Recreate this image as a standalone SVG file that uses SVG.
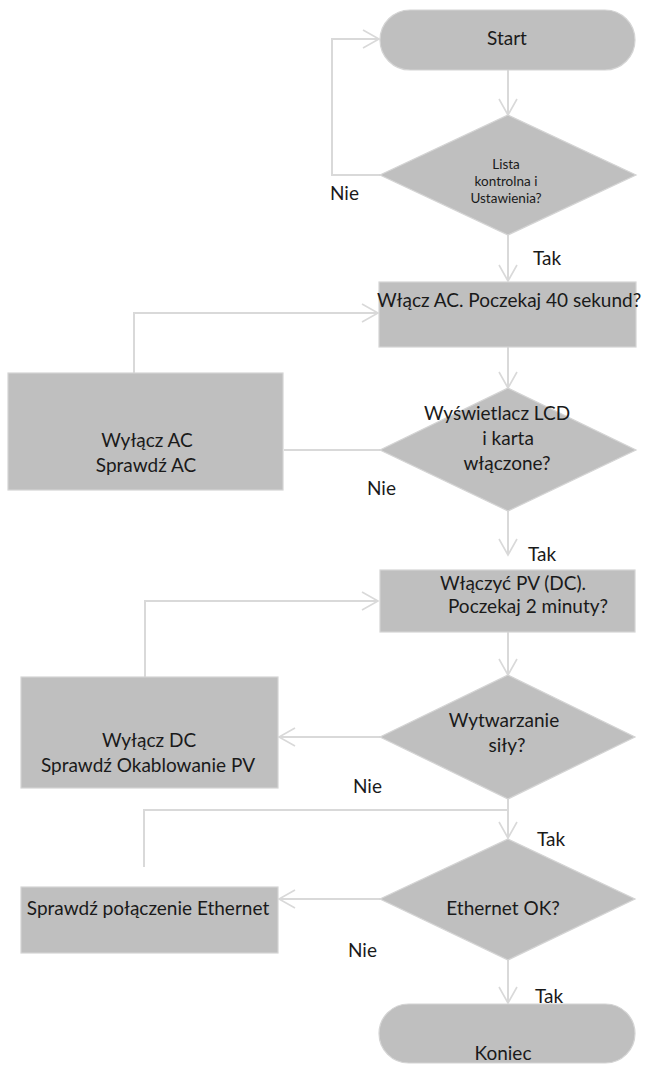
<svg xmlns="http://www.w3.org/2000/svg" width="646" height="1065" viewBox="0 0 646 1065">
  <defs>
    <marker id="arrow" markerUnits="userSpaceOnUse" markerWidth="24" markerHeight="24" viewBox="-20 -12 24 24" refX="0" refY="0" orient="auto">
      <path d="M-16,-9 L0,0 L-16,9" fill="none" stroke="#D9D9D9" stroke-width="1.6"/>
    </marker>
    <style>
      .shape { fill: #BFBFBF; stroke: #D4D4D4; stroke-width: 1.2; }
      .edge { fill: none; stroke: #D9D9D9; stroke-width: 2; }
      .arr { marker-end: url(#arrow); }
      text { font-family: Lato, "Liberation Sans", sans-serif; font-size: 19px; fill: #1A1A1A; }
      .c { text-anchor: middle; }
      .small { font-size: 13.5px; }
    </style>
  </defs>

  <!-- connectors -->
  <g id="connectors">
    <path class="edge arr" d="M508,70 V115"/>
    <path class="edge arr" d="M380,175 H332 V39 H379"/>
    <path class="edge arr" d="M508,235 V281"/>
    <path class="edge arr" d="M508,347 V388"/>
    <path class="edge" d="M380,450 H284"/>
    <path class="edge arr" d="M134,373 V313 H378"/>
    <path class="edge arr" d="M508,511 V555"/>
    <path class="edge arr" d="M508,632 V675"/>
    <path class="edge arr" d="M380,737 H279"/>
    <path class="edge arr" d="M145,677 V601 H378"/>
    <path class="edge arr" d="M508,799 V838"/>
    <path class="edge" d="M144,867 V810 H508"/>
    <path class="edge arr" d="M380,899 H279"/>
    <path class="edge arr" d="M508,960 V1003"/>
  </g>

  <!-- edge labels -->
  <g id="labels">
    <text x="330" y="200">Nie</text>
    <text x="533" y="265">Tak</text>
    <text x="367" y="495">Nie</text>
    <text x="528" y="561">Tak</text>
    <text x="353" y="793">Nie</text>
    <text x="537" y="846">Tak</text>
    <text x="348" y="957">Nie</text>
  </g>

  <g id="start">
    <rect class="shape" x="380" y="10" width="255" height="60" rx="30"/>
    <text class="c" x="507" y="45">Start</text>
  </g>

  <g id="check-settings">
    <polygon class="shape" points="508,115 636,175 508,235 380,175"/>
    <text class="c small" x="506" y="169">Lista</text>
    <text class="c small" x="506" y="186">kontrolna i</text>
    <text class="c small" x="506" y="203">Ustawienia?</text>
  </g>

  <g id="ac-on">
    <rect class="shape" x="379" y="282" width="257" height="65"/>
    <text x="377" y="307">Włącz AC. Poczekaj 40 sekund?</text>
  </g>

  <g id="lcd-check">
    <polygon class="shape" points="508,388 636,450 508,511 380,450"/>
    <text class="c" x="497" y="420">Wyświetlacz LCD</text>
    <text class="c" x="508" y="445">i karta</text>
    <text class="c" x="507" y="470">włączone?</text>
  </g>

  <g id="ac-off">
    <rect class="shape" x="8" y="373" width="275" height="117"/>
    <text class="c" x="147" y="447">Wyłącz AC</text>
    <text class="c" x="146" y="472">Sprawdź AC</text>
  </g>

  <g id="pv-on">
    <rect class="shape" x="380" y="570" width="255" height="62"/>
    <text class="c" x="513" y="590">Włączyć PV (DC).</text>
    <text class="c" x="528" y="613">Poczekaj 2 minuty?</text>
  </g>

  <g id="power-check">
    <polygon class="shape" points="508,675 635,737 508,799 380,737"/>
    <text class="c" x="504" y="727">Wytwarzanie</text>
    <text class="c" x="507" y="752">siły?</text>
  </g>

  <g id="dc-off">
    <rect class="shape" x="21" y="677" width="257" height="111"/>
    <text class="c" x="149" y="747">Wyłącz DC</text>
    <text class="c" x="148" y="772">Sprawdź Okablowanie PV</text>
  </g>

  <g id="ethernet-check">
    <polygon class="shape" points="508,839 635,899 508,960 380,899"/>
    <text class="c" x="503" y="915">Ethernet OK?</text>
  </g>

  <g id="ethernet-fix">
    <rect class="shape" x="21" y="887" width="257" height="66"/>
    <text class="c" x="148" y="915">Sprawdź połączenie Ethernet</text>
  </g>

  <g id="end">
    <rect class="shape" x="379" y="1004" width="256" height="59" rx="29.5"/>
    <text class="c" x="503" y="1060">Koniec</text>
  </g>

  <text x="535" y="1003">Tak</text>
</svg>
